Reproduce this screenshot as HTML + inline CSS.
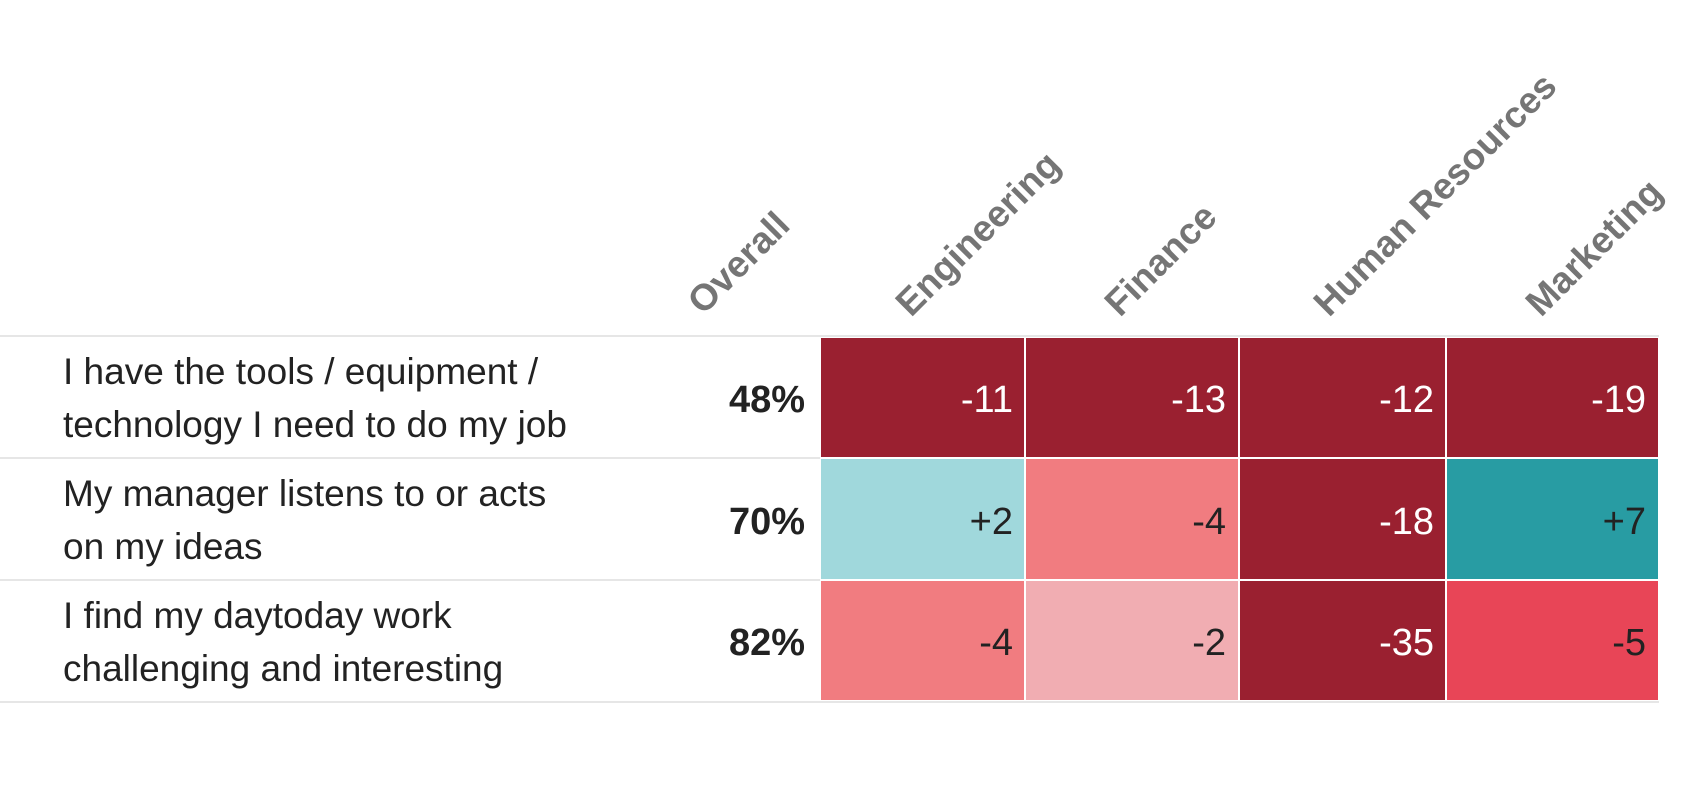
<!DOCTYPE html>
<html><head><meta charset="utf-8"><style>
body{margin:0;background:#fff;width:1700px;height:800px;overflow:hidden}
svg{font-family:"Liberation Sans",sans-serif}
</style></head><body>
<svg width="1700" height="800" xmlns="http://www.w3.org/2000/svg">
<g font-size="37" font-weight="bold" fill="#757575">
<text transform="translate(703,316) rotate(-45)">Overall</text>
<text transform="translate(911,318) rotate(-45)">Engineering</text>
<text transform="translate(1120,318) rotate(-45)">Finance</text>
<text transform="translate(1329,318) rotate(-45)">Human Resources</text>
<text transform="translate(1541,318) rotate(-45)">Marketing</text>
</g>
<g stroke="#fff" stroke-width="2">
<rect x="820" y="337" width="205" height="121" fill="#9a2030"/>
<rect x="1025" y="337" width="214" height="121" fill="#9a2030"/>
<rect x="1239" y="337" width="207" height="121" fill="#9a2030"/>
<rect x="1446" y="337" width="213" height="121" fill="#9a2030"/>
<rect x="820" y="458" width="205" height="122" fill="#a0d8dc"/>
<rect x="1025" y="458" width="214" height="122" fill="#f17c80"/>
<rect x="1239" y="458" width="207" height="122" fill="#9a2030"/>
<rect x="1446" y="458" width="213" height="122" fill="#289ca3"/>
<rect x="820" y="580" width="205" height="121" fill="#f17c80"/>
<rect x="1025" y="580" width="214" height="121" fill="#f1adb2"/>
<rect x="1239" y="580" width="207" height="121" fill="#9a2030"/>
<rect x="1446" y="580" width="213" height="121" fill="#e84557"/>
</g>
<g stroke="#e6e6e6" stroke-width="2">
<line x1="0" y1="336" x2="1659" y2="336"/>
<line x1="0" y1="458" x2="820" y2="458"/>
<line x1="0" y1="580" x2="820" y2="580"/>
<line x1="0" y1="702" x2="1659" y2="702"/>
</g>
<g font-size="37" fill="#222">
<text x="63" y="384">I have the tools / equipment /</text>
<text x="63" y="437">technology I need to do my job</text>
<text x="63" y="506">My manager listens to or acts</text>
<text x="63" y="559">on my ideas</text>
<text x="63" y="628">I find my daytoday work</text>
<text x="63" y="681">challenging and interesting</text>
</g>
<g font-size="38" font-weight="bold" fill="#222" text-anchor="end">
<text x="805" y="412">48%</text>
<text x="805" y="534">70%</text>
<text x="805" y="655">82%</text>
</g>
<g font-size="38" text-anchor="end">
<text x="1013" y="412" fill="#fff">-11</text>
<text x="1226" y="412" fill="#fff">-13</text>
<text x="1434" y="412" fill="#fff">-12</text>
<text x="1646" y="412" fill="#fff">-19</text>
<text x="1013" y="534" fill="#222">+2</text>
<text x="1226" y="534" fill="#222">-4</text>
<text x="1434" y="534" fill="#fff">-18</text>
<text x="1646" y="534" fill="#222">+7</text>
<text x="1013" y="655" fill="#222">-4</text>
<text x="1226" y="655" fill="#222">-2</text>
<text x="1434" y="655" fill="#fff">-35</text>
<text x="1646" y="655" fill="#222">-5</text>
</g>
</svg>
</body></html>
